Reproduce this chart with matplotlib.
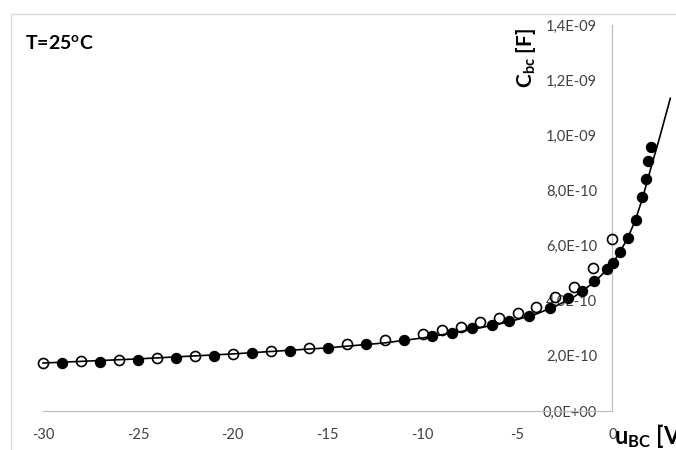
import matplotlib
matplotlib.use("Agg")
import matplotlib.pyplot as plt
from matplotlib.patches import Rectangle
from matplotlib.ticker import FuncFormatter

plt.rcParams['font.family'] = ['Lato', 'DejaVu Sans']
plt.rcParams['mathtext.fontset'] = 'custom'
plt.rcParams['mathtext.rm'] = 'Lato'
plt.rcParams['mathtext.bf'] = 'Lato:bold'
plt.rcParams['mathtext.it'] = 'Lato:italic'
plt.rcParams['axes.unicode_minus'] = False

# measured points, open circles (V, F)
u_open = [-30, -28, -26, -24, -22, -20, -18, -16, -14, -12, -10,
          -9, -8, -7, -6, -5, -4, -3, -2, -1, 0]
c_open = [1.75e-10, 1.80e-10, 1.86e-10, 1.93e-10, 2.01e-10, 2.08e-10,
          2.18e-10, 2.30e-10, 2.42e-10, 2.58e-10, 2.79e-10,
          2.93e-10, 3.06e-10, 3.23e-10, 3.38e-10, 3.54e-10, 3.76e-10,
          4.14e-10, 4.50e-10, 5.19e-10, 6.24e-10]

# measured points, filled circles
u_fill = [-29, -27, -25, -23, -21, -19, -17, -15, -13, -11,
          -9.5, -8.45, -7.4, -6.35, -5.45, -4.4, -3.3, -2.35, -1.6, -0.98,
          -0.3, 0.02, 0.39, 0.8, 1.23, 1.54, 1.75, 1.86, 2.02]
c_fill = [1.75e-10, 1.79e-10, 1.86e-10, 1.92e-10, 2.01e-10, 2.09e-10,
          2.18e-10, 2.30e-10, 2.44e-10, 2.58e-10,
          2.72e-10, 2.82e-10, 3.00e-10, 3.12e-10, 3.28e-10, 3.46e-10,
          3.73e-10, 4.10e-10, 4.35e-10, 4.72e-10,
          5.15e-10, 5.37e-10, 5.77e-10, 6.27e-10, 6.93e-10, 7.76e-10,
          8.41e-10, 9.07e-10, 9.58e-10]

# model curve
u_model = [-30, -25, -20, -15, -12, -10, -8, -6, -5, -4, -3, -2, -1,
           -0.5, 0, 0.4, 0.8, 1.2, 1.6, 2.0, 2.5, 3.05]
c_model = [1.74e-10, 1.89e-10, 2.07e-10, 2.29e-10, 2.47e-10, 2.65e-10,
           2.88e-10, 3.15e-10, 3.32e-10, 3.52e-10, 3.80e-10, 4.15e-10,
           4.65e-10, 4.98e-10, 5.35e-10, 5.77e-10, 6.27e-10, 6.90e-10,
           7.75e-10, 8.75e-10, 9.95e-10, 11.34e-10]

x_ticks = [-30, -25, -20, -15, -10, -5, 0]
y_ticks = [0, 2e-10, 4e-10, 6e-10, 8e-10, 1.0e-9, 1.2e-9, 1.4e-9]

W, H = 676, 450
fig = plt.figure(figsize=(W / 100, H / 100), dpi=100)

# chart border (cropped on the right and bottom)
fig.patches.append(Rectangle((11 / W, -0.1), 1.0, (H - 14) / H + 0.1,
                             transform=fig.transFigure, fill=False,
                             edgecolor='#d9d9d9', lw=1.0))

ax = fig.add_axes([43 / W, 39 / H, (W - 43) / W, 386 / H])
ax.set_xlim(-30, 3.35)
ax.set_ylim(0, 1.4e-9)
ax.patch.set_alpha(0)

for s in ['top', 'right']:
    ax.spines[s].set_visible(False)
ax.spines['left'].set_position(('data', 0))
ax.spines['left'].set_bounds(0, 1.4e-9)
ax.spines['bottom'].set_bounds(-30, 0)
for s in ['left', 'bottom']:
    ax.spines[s].set_color('#bfbfbf')
    ax.spines[s].set_linewidth(0.9)

ax.set_xticks(x_ticks)
ax.set_yticks(y_ticks)
ax.yaxis.set_major_formatter(FuncFormatter(lambda v, p: f"{v:.1E}".replace('.', ',')))
ax.tick_params(axis='both', length=0, labelsize=10.5, colors='#404040')
ax.tick_params(axis='x', pad=12)
ax.tick_params(axis='y', pad=11)

ax.plot(u_model, c_model, color='black', lw=1.2, zorder=2, clip_on=False)
ax.plot(u_fill, c_fill, 'o', color='black', ms=7.2, zorder=3, clip_on=False)
ax.plot(u_open, c_open, 'o', mfc='none', mec='black', mew=1.2, ms=7.2,
        zorder=3, clip_on=False)

fig.text(25 / W, 1 - 43 / H, 'T=25$^{\\mathbf{o}}$C', fontsize=14,
         fontweight='bold', ha='left', va='center')
fig.text(526 / W, 1 - 58 / H, 'C$_{\\mathbf{bc}}$ [F]', fontsize=15,
         fontweight='bold', rotation=90, ha='center', va='center')
fig.text(614 / W, 1 - 436 / H, 'u$_{\\mathbf{BC}}$ [V]', fontsize=17,
         fontweight='bold', ha='left', va='center')

fig.savefig('out.png', dpi=100)
